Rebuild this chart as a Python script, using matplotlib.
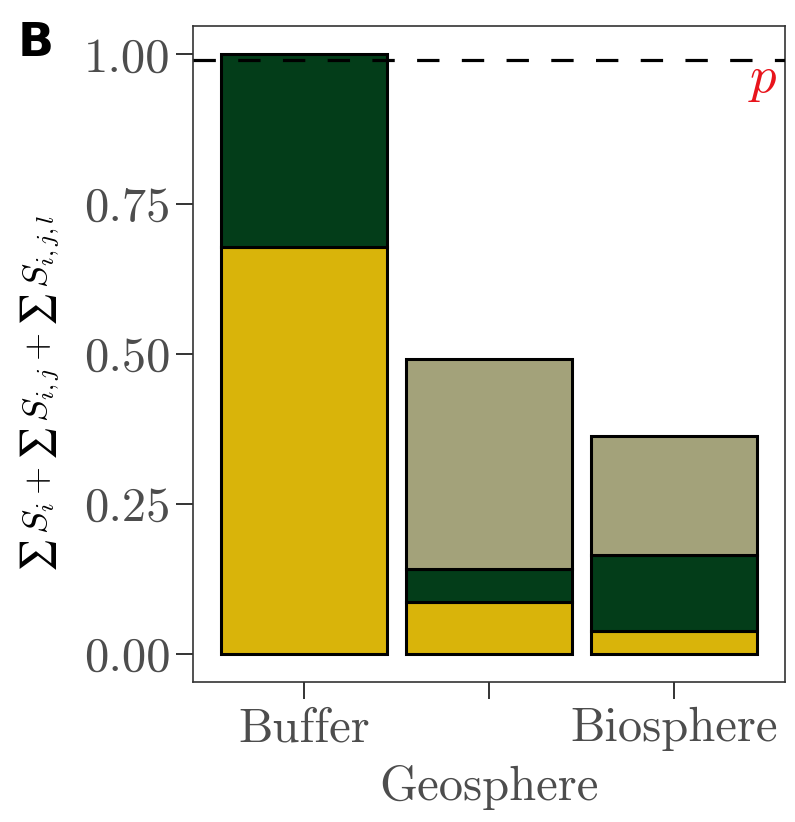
import numpy as np
import matplotlib
matplotlib.use('Agg')
import matplotlib.pyplot as plt

# data
categories = ['Buffer', 'Geosphere', 'Biosphere']
first_order = [0.678, 0.087, 0.038]    # yellow
second_order = [0.322, 0.055, 0.127]   # dark green
third_order = [0.0, 0.350, 0.198]      # khaki
p_level = 0.99

col_first = '#D9B40A'
col_second = '#033D19'
col_third = '#A3A27A'

plt.rcParams['font.family'] = 'cmr10'
plt.rcParams['mathtext.fontset'] = 'cm'
plt.rcParams['axes.unicode_minus'] = False

fig = plt.figure(figsize=(7.95, 8.22), dpi=100)
ax = fig.add_axes([0.2428, 0.1703, 0.7446, 0.7981])

x = np.arange(1, len(categories) + 1)
b1 = np.array(first_order)
b2 = np.array(second_order)
b3 = np.array(third_order)
ax.bar(x, b1, width=0.9, color=col_first, edgecolor='black', linewidth=2.2, zorder=2)
ax.bar(x, b2, width=0.9, bottom=b1, color=col_second, edgecolor='black', linewidth=2.2, zorder=2)
keep = b3 > 0
ax.bar(x[keep], b3[keep], width=0.9, bottom=(b1 + b2)[keep], color=col_third,
       edgecolor='black', linewidth=2.2, zorder=2)

ax.axhline(p_level, color='black', linewidth=2.3, dashes=(7, 7), zorder=3)
ax.text(3.48, p_level + 0.006, r'$p$', color='#E8141C', fontsize=38,
        ha='center', va='top', zorder=4)

ax.set_xlim(0.4, 3.6)
ax.set_ylim(-0.047, 1.047)
ax.set_yticks([0, 0.25, 0.5, 0.75, 1.0])
ax.set_yticklabels(['0.00', '0.25', '0.50', '0.75', '1.00'])
ax.set_xticks(x)
ax.set_xticklabels(categories)

ax.tick_params(axis='both', which='major', length=12, width=1.4, color='#333333',
               labelcolor='#4D4D4D', labelsize=35)
ax.tick_params(axis='y', pad=4)
ax.tick_params(axis='x', pad=6)
ax.xaxis.get_major_ticks()[1].set_pad(48)

for s in ax.spines.values():
    s.set_color('#333333')
    s.set_linewidth(1.2)

ax.set_ylabel('$\u2211\\, S_i + \u2211\\, S_{i,j} + \u2211\\, S_{i,j,l}$', fontsize=26,
              color='black')
ax.yaxis.set_label_coords(-0.222, 0.44)

fig.text(0.022, 0.975, 'B', family='DejaVu Sans', fontweight='bold', fontsize=34,
         ha='left', va='top')

fig.savefig('out.png', dpi=100)
